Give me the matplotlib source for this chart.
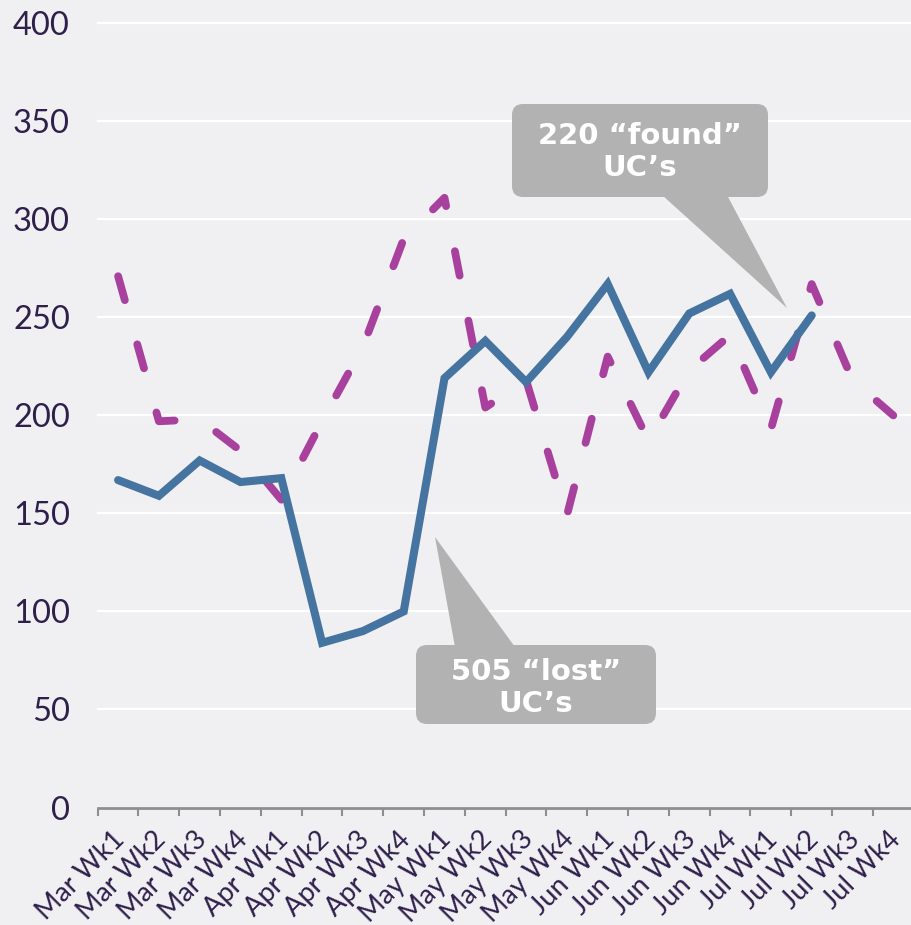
import matplotlib
matplotlib.use("Agg")
import matplotlib.pyplot as plt
import matplotlib.transforms as mtransforms
from matplotlib.patches import FancyBboxPatch, Polygon

# ---- data ----
categories = ["Mar Wk1", "Mar Wk2", "Mar Wk3", "Mar Wk4",
              "Apr Wk1", "Apr Wk2", "Apr Wk3", "Apr Wk4",
              "May Wk1", "May Wk2", "May Wk3", "May Wk4",
              "Jun Wk1", "Jun Wk2", "Jun Wk3", "Jun Wk4",
              "Jul Wk1", "Jul Wk2", "Jul Wk3", "Jul Wk4"]
blue_values = [167, 159, 177, 166, 168, 84, 90, 100, 219, 238, 217, 240,
               267, 222, 252, 262, 222, 251]
magenta_values = [271, 197, 198, 182, 157, 197, 235, 290, 311, 204, 218, 149,
                  230, 187, 223, 241, 193, 267, 218, 200]
y_ticks = [0, 50, 100, 150, 200, 250, 300, 350, 400]
callout_found = "220 \u201cfound\u201d\nUC\u2019s"
callout_lost = "505 \u201clost\u201d\nUC\u2019s"

# ---- style ----
W, H = 912, 925
DPI = 100
BG = "#F0EFF2"
BLUE = "#44749F"
MAGENTA = "#A8419E"
GRAY = "#B1B2B1"
TXT = "#2E1F4B"

fig = plt.figure(figsize=(W / DPI, H / DPI), dpi=DPI, facecolor=BG)
ax = fig.add_axes([97.7 / W, 117.5 / H, 816.0 / W, 784.2 / H])
ax.set_facecolor(BG)

x_blue = list(range(len(blue_values)))
x_mag = list(range(len(magenta_values)))

ax.plot(x_mag, magenta_values, color=MAGENTA, lw=5.6,
        linestyle=(0, (3.2, 5.9)), dash_capstyle="round",
        solid_joinstyle="round", zorder=3)
ax.plot(x_blue, blue_values, color=BLUE, lw=5.8,
        solid_capstyle="round", solid_joinstyle="miter", zorder=4)

ax.set_xlim(-0.5, len(categories) - 0.5)
ax.set_ylim(0, 400)

# y axis
ax.set_yticks(y_ticks)
ax.set_yticklabels([str(v) for v in y_ticks])
ax.tick_params(axis="y", length=0, pad=20, labelsize=23.5, labelcolor=TXT)
ax.yaxis.grid(True, color="white", lw=1.6)
for gl in ax.get_ygridlines():
    gl.set_clip_on(False)
ax.set_axisbelow(True)

# x axis
ax.set_xticks(range(len(categories)))
ax.set_xticklabels(categories, rotation=45, ha="right", va="center",
                   rotation_mode="anchor")
ax.set_xticks([i - 0.5 for i in range(len(categories) + 1)], minor=True)
ax.tick_params(axis="x", which="major", length=0, pad=0, labelsize=19.5,
               labelcolor=TXT)
ax.tick_params(axis="x", which="minor", length=6, width=1.5, color="#8E8E8E",
               direction="out")
offset = mtransforms.ScaledTranslation(3 / DPI, -28 / DPI, fig.dpi_scale_trans)
for lab in ax.get_xticklabels():
    lab.set_transform(lab.get_transform() + offset)

for lab in ax.get_xticklabels() + ax.get_yticklabels():
    lab.set_fontfamily(["Lato", "DejaVu Sans"])
    lab.set_fontweight("normal")
    lab.set_color(TXT)

for s in ["top", "right", "left"]:
    ax.spines[s].set_visible(False)
ax.spines["bottom"].set_color("#8E8E8E")
ax.spines["bottom"].set_linewidth(2)
ax.spines["bottom"].set_zorder(5)


# ---- callouts (figure pixel coords, origin top-left) ----
def fx(x):
    return x / W


def fy(y):
    return 1 - y / H


def callout(box, base, tip, text, text_y):
    x0, y0, x1, y1 = box
    patch = FancyBboxPatch((fx(x0), fy(y1)), fx(x1) - fx(x0), fy(y0) - fy(y1),
                           boxstyle="round,pad=0,rounding_size=0.012",
                           transform=fig.transFigure, facecolor=GRAY,
                           edgecolor="none", zorder=6, mutation_aspect=W / H)
    fig.add_artist(patch)
    tri = Polygon([(fx(base[0][0]), fy(base[0][1])),
                   (fx(base[1][0]), fy(base[1][1])),
                   (fx(tip[0]), fy(tip[1]))], closed=True,
                  transform=fig.transFigure, facecolor=GRAY,
                  edgecolor="none", zorder=6)
    fig.add_artist(tri)
    fig.text(fx((x0 + x1) / 2), fy(text_y), text, ha="center", va="center",
             color="white", fontsize=21, fontweight="bold",
             family=["DejaVu Sans"], linespacing=1.2, zorder=7)


callout((512, 104, 768, 197), ((662, 195), (727, 195)), (787, 308),
        callout_found, 152)
callout((416, 645, 656, 724), ((455, 647), (515, 647)), (435, 537),
        callout_lost, 688)

fig.savefig("out.png", dpi=DPI, facecolor=BG)
